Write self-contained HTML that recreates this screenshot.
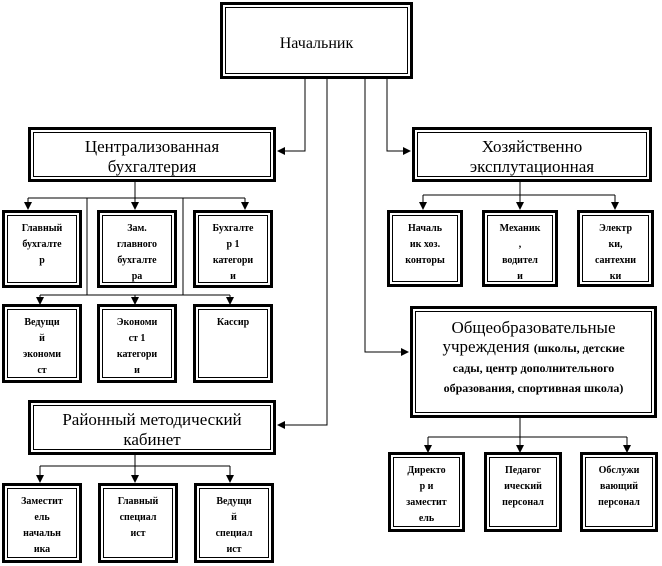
<!DOCTYPE html>
<html><head><meta charset="utf-8"><style>
body{margin:0;background:#fff;}
#c{position:relative;width:662px;height:566px;overflow:hidden;font-family:"Liberation Serif","DejaVu Serif",serif;color:#000;}
.b{position:absolute;box-sizing:border-box;border:3px solid #000;background:#fff;}
.b>div{position:absolute;left:2px;top:2px;right:2px;bottom:2px;border:1px solid #000;text-align:center;overflow:hidden;}
.s>div{font-weight:bold;font-size:10px;line-height:16px;padding-top:5px;}
.t>div{font-size:17px;line-height:20px;}
svg{position:absolute;left:0;top:0;}
</style></head><body><div id="c">
<svg width="662" height="566">
<defs><marker id="a" markerWidth="8" markerHeight="8" refX="7" refY="4" orient="auto" markerUnits="userSpaceOnUse"><path d="M0,0 L8,4 L0,8 z" fill="#000"/></marker></defs>
<g stroke="#000" stroke-width="1" fill="none">
<polyline points="305,79 305,151 278,151" marker-end="url(#a)"/>
<polyline points="327,79 327,425 278,425" marker-end="url(#a)"/>
<polyline points="365,79 365,352 408,352" marker-end="url(#a)"/>
<polyline points="387,79 387,151 410,151" marker-end="url(#a)"/>
<line x1="135" y1="182" x2="135" y2="198"/>
<line x1="28" y1="198" x2="245" y2="198"/>
<line x1="28" y1="198" x2="28" y2="209" marker-end="url(#a)"/>
<line x1="135" y1="198" x2="135" y2="209" marker-end="url(#a)"/>
<line x1="245" y1="198" x2="245" y2="209" marker-end="url(#a)"/>
<line x1="87" y1="198" x2="87" y2="295"/>
<line x1="183" y1="198" x2="183" y2="295"/>
<line x1="40" y1="295" x2="230" y2="295"/>
<line x1="40" y1="295" x2="40" y2="304" marker-end="url(#a)"/>
<line x1="135" y1="295" x2="135" y2="304" marker-end="url(#a)"/>
<line x1="230" y1="295" x2="230" y2="304" marker-end="url(#a)"/>
<line x1="520" y1="182" x2="520" y2="195"/>
<line x1="423" y1="195" x2="615" y2="195"/>
<line x1="423" y1="195" x2="423" y2="209" marker-end="url(#a)"/>
<line x1="520" y1="195" x2="520" y2="209" marker-end="url(#a)"/>
<line x1="615" y1="195" x2="615" y2="209" marker-end="url(#a)"/>
<line x1="520" y1="418" x2="520" y2="437"/>
<line x1="428" y1="437" x2="627" y2="437"/>
<line x1="428" y1="437" x2="428" y2="452" marker-end="url(#a)"/>
<line x1="520" y1="437" x2="520" y2="452" marker-end="url(#a)"/>
<line x1="627" y1="437" x2="627" y2="452" marker-end="url(#a)"/>
<line x1="135" y1="455" x2="135" y2="466"/>
<line x1="40" y1="466" x2="230" y2="466"/>
<line x1="40" y1="466" x2="40" y2="482" marker-end="url(#a)"/>
<line x1="135" y1="466" x2="135" y2="482" marker-end="url(#a)"/>
<line x1="230" y1="466" x2="230" y2="482" marker-end="url(#a)"/>
</g></svg>

<div class="b t" style="left:220px;top:2px;width:193px;height:77px;"><div style="font-size:16px;line-height:71px;">Начальник</div></div>
<div class="b t" style="left:28px;top:127px;width:248px;height:55px;"><div style="padding-top:4px;">Централизованная<br>бухгалтерия</div></div>
<div class="b t" style="left:412px;top:127px;width:240px;height:55px;"><div style="padding-top:4px;">Хозяйственно<br>эксплутационная</div></div>
<div class="b t" style="left:28px;top:400px;width:248px;height:55px;"><div style="padding-top:4px;">Районный методический<br>кабинет</div></div>
<div class="b" style="left:410px;top:306px;width:247px;height:112px;"><div style="font-size:17px;line-height:19px;padding-top:6px;">Общеобразовательные<br>учреждения <b style="font-size:12px;line-height:18px;">(школы, детские<br>сады, центр дополнительного<br>образования, спортивная школа)</b></div></div>

<div class="b s" style="left:2px;top:210px;width:80px;height:78px;"><div>Главный<br>бухгалте<br>р</div></div>
<div class="b s" style="left:97px;top:210px;width:80px;height:78px;"><div>Зам.<br>главного<br>бухгалте<br>ра</div></div>
<div class="b s" style="left:193px;top:210px;width:80px;height:78px;"><div>Бухгалте<br>р 1<br>категори<br>и</div></div>
<div class="b s" style="left:2px;top:304px;width:80px;height:79px;"><div>Ведущи<br>й<br>экономи<br>ст</div></div>
<div class="b s" style="left:97px;top:304px;width:80px;height:79px;"><div>Экономи<br>ст 1<br>категори<br>и</div></div>
<div class="b s" style="left:193px;top:304px;width:80px;height:79px;"><div>Кассир</div></div>

<div class="b s" style="left:387px;top:210px;width:76px;height:77px;"><div>Началь<br>ик хоз.<br>конторы</div></div>
<div class="b s" style="left:482px;top:210px;width:76px;height:77px;"><div>Механик<br>,<br>водител<br>и</div></div>
<div class="b s" style="left:577px;top:210px;width:77px;height:77px;"><div>Электр<br>ки,<br>сантехни<br>ки</div></div>

<div class="b s" style="left:388px;top:452px;width:77px;height:80px;"><div>Директо<br>р и<br>заместит<br>ель</div></div>
<div class="b s" style="left:484px;top:452px;width:78px;height:80px;"><div>Педагог<br>ический<br>персонал</div></div>
<div class="b s" style="left:580px;top:452px;width:78px;height:80px;"><div>Обслужи<br>вающий<br>персонал</div></div>

<div class="b s" style="left:2px;top:483px;width:80px;height:80px;"><div>Заместит<br>ель<br>начальн<br>ика</div></div>
<div class="b s" style="left:98px;top:483px;width:80px;height:80px;"><div>Главный<br>специал<br>ист</div></div>
<div class="b s" style="left:194px;top:483px;width:80px;height:80px;"><div>Ведущи<br>й<br>специал<br>ист</div></div>
</div></body></html>
